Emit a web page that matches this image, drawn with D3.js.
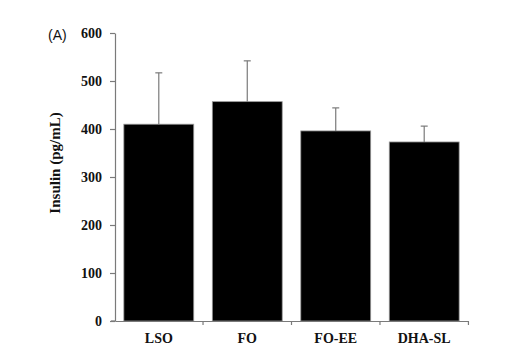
<!DOCTYPE html>
<html><head><meta charset="utf-8">
<script src="https://cdn.jsdelivr.net/npm/d3@7"></script>
<style>body{margin:0;background:#fff}</style>
</head><body><svg id="c" width="524" height="357"></svg>
<script>
const categories = ["LSO", "FO", "FO-EE", "DHA-SL"];
const values = [410, 457, 396, 373];
const errors = [107, 85, 48, 33];
const yTicks = [0, 100, 200, 300, 400, 500, 600];

const svg = d3.select("#c");
const m = {left: 115, right: 468, top: 33, bottom: 321};
const x = d3.scaleBand().domain(categories).range([m.left, m.right]).paddingInner(0.21).paddingOuter(0.1);
const y = d3.scaleLinear().domain([0, 600]).range([m.bottom, m.top]);
const axisColor = "#7a7a7a";
const serif = "'Liberation Serif','Times New Roman',serif";

// bars
svg.selectAll("rect.bar").data(categories).enter().append("rect")
  .attr("x", d => x(d)).attr("width", x.bandwidth())
  .attr("y", (d,i) => y(values[i])).attr("height", (d,i) => y(0) - y(values[i]))
  .attr("fill", "#000").attr("stroke", "#999").attr("stroke-width", 0.8);

// error bars
const eg = svg.selectAll("g.err").data(categories).enter().append("g")
  .attr("stroke", axisColor).attr("stroke-width", 1.2);
eg.append("line").attr("x1", d => x(d) + x.bandwidth()/2).attr("x2", d => x(d) + x.bandwidth()/2)
  .attr("y1", (d,i) => y(values[i])).attr("y2", (d,i) => y(values[i] + errors[i]));
eg.append("line").attr("x1", d => x(d) + x.bandwidth()/2 - 3.5).attr("x2", d => x(d) + x.bandwidth()/2 + 3.5)
  .attr("y1", (d,i) => y(values[i] + errors[i])).attr("y2", (d,i) => y(values[i] + errors[i]));

// y axis
const ya = svg.append("g").attr("transform", `translate(${m.left},0)`)
  .call(d3.axisLeft(y).tickValues(yTicks).tickSize(5).tickPadding(8).tickSizeOuter(0));
ya.select(".domain").attr("stroke", axisColor).attr("stroke-width", 1.2);
ya.selectAll(".tick line").attr("stroke", axisColor).attr("stroke-width", 1.2);
ya.selectAll(".tick text").attr("font-family", serif).attr("font-weight", "bold").attr("font-size", 14).attr("fill", "#111");

// x axis
const xa = svg.append("g").attr("transform", `translate(0,${m.bottom})`)
  .call(d3.axisBottom(x).tickSize(0).tickPadding(12));
xa.select(".domain").attr("stroke", axisColor).attr("stroke-width", 1.2);
xa.selectAll(".tick text").attr("font-family", serif).attr("font-weight", "bold").attr("font-size", 14).attr("fill", "#111");
// separator ticks between categories
const seps = categories.map(c => x(c) + x.bandwidth() + x.step()*x.paddingInner()/2);
svg.selectAll("line.sep").data(seps).enter().append("line")
  .attr("x1", d => d).attr("x2", d => d).attr("y1", m.bottom).attr("y2", m.bottom + 4)
  .attr("stroke", axisColor).attr("stroke-width", 1.2);
svg.append("line").attr("x1", m.left - 4).attr("x2", m.left).attr("y1", m.bottom).attr("y2", m.bottom)
  .attr("stroke", axisColor).attr("stroke-width", 1.2);

// y label
svg.append("text").attr("transform", "translate(60,163) rotate(-90)")
  .attr("text-anchor", "middle").attr("font-family", serif).attr("font-weight", "bold")
  .attr("font-size", 15).attr("fill", "#111").text("Insulin (pg/mL)");

// panel label
svg.append("text").attr("x", 48).attr("y", 40).attr("font-family", "'Liberation Sans',Arial,sans-serif")
  .attr("font-size", 14).attr("fill", "#111").text("(A)");
</script></body></html>
